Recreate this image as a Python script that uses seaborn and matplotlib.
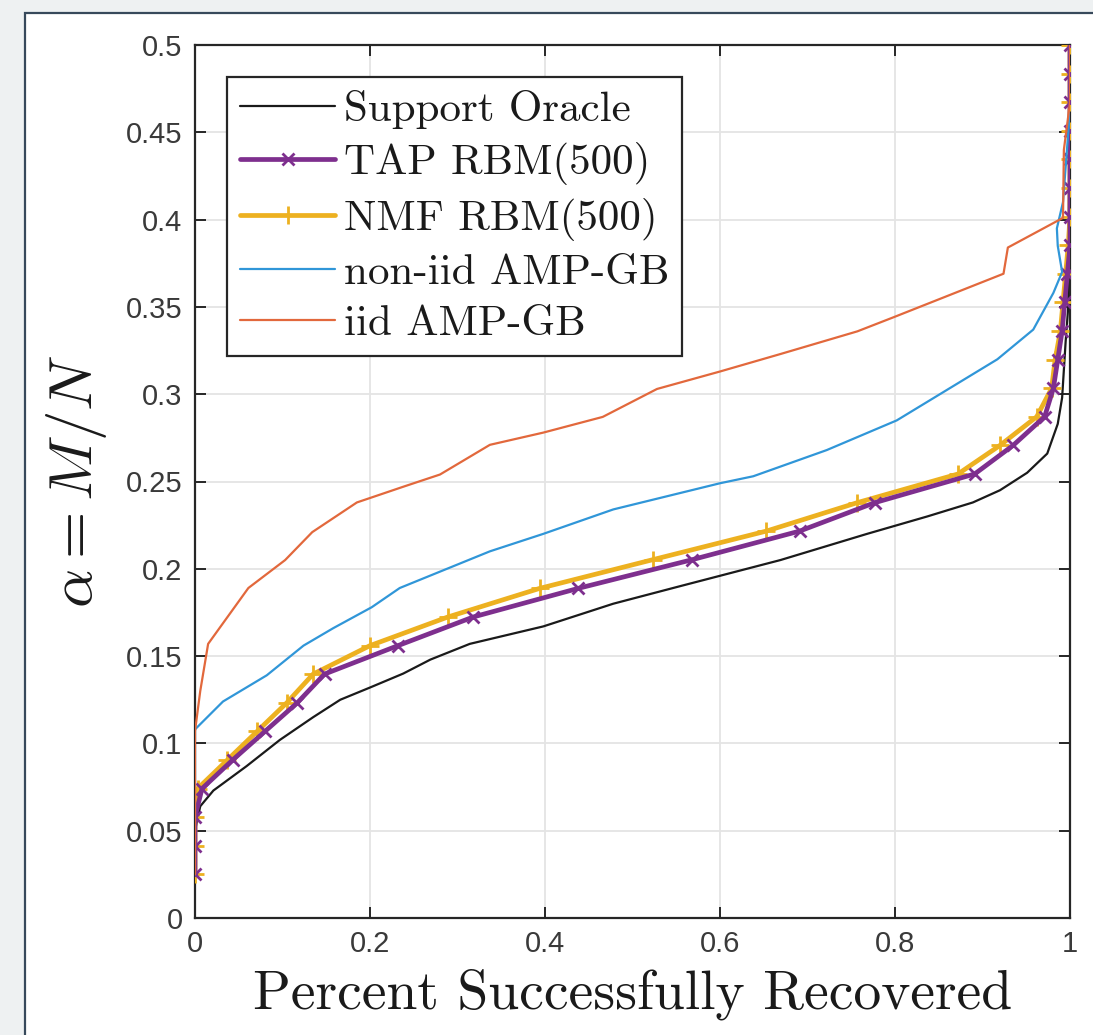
import numpy as np
import pandas as pd
import matplotlib
matplotlib.use("Agg")
import matplotlib.pyplot as plt
from matplotlib.patches import Rectangle
import seaborn as sns

# alpha grid shared by the two RBM curves
alpha_grid = [0.025, 0.0414, 0.0578, 0.0741, 0.0905, 0.1069, 0.1233, 0.1397,
              0.1560, 0.1724, 0.1888, 0.2052, 0.2216, 0.2379, 0.2543, 0.2707,
              0.2871, 0.3034, 0.3198, 0.3362, 0.3526, 0.3690, 0.3853, 0.4017,
              0.4181, 0.4345, 0.4509, 0.4672, 0.4836, 0.5]
tap_x = [0, 0, 0, 0.008, 0.043, 0.080, 0.117, 0.148, 0.232, 0.318, 0.438,
         0.568, 0.691, 0.777, 0.891, 0.935, 0.971, 0.981, 0.986, 0.991, 0.994,
         0.997, 1.0, 1.0, 1.0, 1.0, 1.0, 1.0, 1.0, 1.0]
nmf_x = [0, 0, 0, 0.003, 0.037, 0.071, 0.105, 0.135, 0.200, 0.289, 0.394,
         0.523, 0.653, 0.757, 0.872, 0.920, 0.962, 0.979, 0.983, 0.989, 0.992,
         0.995, 0.998, 1.0, 1.0, 1.0, 1.0, 1.0, 1.0, 1.0]

oracle_x = [0, 0, 0.006, 0.021, 0.059, 0.097, 0.135, 0.166, 0.200, 0.238, 0.269,
            0.314, 0.398, 0.478, 0.554, 0.669, 0.768, 0.837, 0.889, 0.920, 0.951,
            0.974, 0.986, 0.991, 0.995, 0.998, 1.0]
oracle_y = [0.025, 0.050, 0.064, 0.073, 0.087, 0.102, 0.115, 0.125, 0.132, 0.140,
            0.148, 0.157, 0.167, 0.180, 0.190, 0.205, 0.220, 0.230, 0.238, 0.245,
            0.255, 0.266, 0.283, 0.298, 0.330, 0.350, 0.5]

noniid_x = [0, 0, 0.032, 0.082, 0.124, 0.158, 0.202, 0.234, 0.337, 0.398, 0.478,
            0.600, 0.638, 0.722, 0.802, 0.917, 0.958, 0.981, 0.991, 0.986, 0.985,
            0.992, 1.0, 1.0]
noniid_y = [0.025, 0.108, 0.124, 0.139, 0.156, 0.166, 0.178, 0.189, 0.210, 0.220,
            0.234, 0.249, 0.253, 0.268, 0.285, 0.320, 0.337, 0.358, 0.370, 0.385,
            0.395, 0.410, 0.463, 0.5]

iid_x = [0, 0, 0.006, 0.015, 0.061, 0.103, 0.134, 0.185, 0.238, 0.280, 0.337,
         0.398, 0.466, 0.528, 0.600, 0.669, 0.757, 0.798, 0.924, 0.929, 0.992,
         0.993, 1.0, 1.0]
iid_y = [0.025, 0.107, 0.130, 0.157, 0.189, 0.205, 0.221, 0.238, 0.247, 0.254,
         0.271, 0.278, 0.287, 0.303, 0.313, 0.323, 0.336, 0.344, 0.369, 0.384,
         0.401, 0.440, 0.467, 0.5]

x_ticks = [0, 0.2, 0.4, 0.6, 0.8, 1]
y_ticks = [0, 0.05, 0.1, 0.15, 0.2, 0.25, 0.3, 0.35, 0.4, 0.45, 0.5]

sns.set_theme(style="whitegrid")
plt.rcParams["font.family"] = ["Liberation Sans", "DejaVu Sans"]
plt.rcParams["mathtext.fontset"] = "cm"

fig = plt.figure(figsize=(10.93, 10.35), dpi=100, facecolor="#eef1f2")
fig.add_artist(Rectangle((25 / 1093, -0.1), 1.2, 0.1 + 1 - 13 / 1035,
                         transform=fig.transFigure, facecolor="white",
                         edgecolor="#37495b", linewidth=1.6, zorder=0))
ax = fig.add_axes([195 / 1093, 1 - 918 / 1035, 875 / 1093, 873 / 1035])
ax.set_facecolor("white")

purple = "#7E2F8E"
yellow = "#EDB120"

sns.lineplot(x=oracle_x, y=oracle_y, sort=False, estimator=None, ax=ax,
             color="#1a1a1a", linewidth=1.6, label="Support Oracle", zorder=2)
sns.lineplot(x=tap_x, y=alpha_grid, sort=False, estimator=None, ax=ax,
             color=purple, linewidth=3.4, marker="x", markersize=9,
             markeredgewidth=2, markeredgecolor=purple,
             label="TAP RBM(500)", zorder=4)
sns.lineplot(x=nmf_x, y=alpha_grid, sort=False, estimator=None, ax=ax,
             color=yellow, linewidth=3.4, marker="+", markersize=13,
             markeredgewidth=2, markeredgecolor=yellow,
             label="NMF RBM(500)", zorder=3)
sns.lineplot(x=noniid_x, y=noniid_y, sort=False, estimator=None, ax=ax,
             color="#3096d8", linewidth=1.6, label="non-iid AMP-GB", zorder=5)
sns.lineplot(x=iid_x, y=iid_y, sort=False, estimator=None, ax=ax,
             color="#e2683c", linewidth=1.6, label="iid AMP-GB", zorder=6)

ax.set_xlim(0, 1)
ax.set_ylim(0, 0.5)
ax.set_xticks(x_ticks)
ax.set_yticks(y_ticks)
ax.set_xticklabels([f"{v:g}" for v in x_ticks])
ax.set_yticklabels([f"{v:g}" for v in y_ticks])
ax.tick_params(direction="in", length=8, width=1.4, color="#262626",
               labelsize=21, labelcolor="#3a3a3a", top=True, right=True,
               bottom=True, left=True, pad=9)
ax.grid(True, color="#e4e4e4", linewidth=1.3)
for s in ax.spines.values():
    s.set_visible(True)
    s.set_color("#262626")
    s.set_linewidth(1.6)

ax.set_xlabel("Percent Successfully Recovered", family="cmr10", fontsize=40,
              color="#1a1a1a", labelpad=7)
ax.set_ylabel(r"$\alpha = M/N$", fontsize=44, color="#1a1a1a")
ax.yaxis.set_label_coords(-0.098, 0.5)

leg = ax.legend(loc="upper left", prop={"family": "cmr10", "size": 31},
                frameon=True, fancybox=False, framealpha=1, edgecolor="#262626",
                handlelength=2.2, handletextpad=0.2, labelspacing=0.3,
                borderaxespad=0.75, borderpad=0.3)
leg.get_frame().set_linewidth(1.6)
for t in leg.get_texts():
    t.set_color("#1a1a1a")

fig.savefig("out.png", dpi=100, facecolor=fig.get_facecolor())
